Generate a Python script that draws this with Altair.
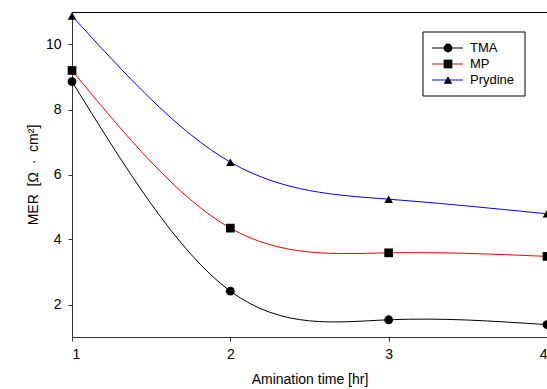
import altair as alt
import pandas as pd

series = ["TMA", "MP", "Prydine"]
time_hr = [1, 2, 3, 4]
tma = [8.86, 2.41, 1.53, 1.38]
mp = [9.20, 4.35, 3.59, 3.48]
prydine = [10.88, 6.38, 5.24, 4.79]
y_ticks = [2, 4, 6, 8, 10]
x_ticks = [1, 2, 3, 4]
colors = ["black", "red", "blue"]
shapes = ["circle", "square", "triangle-up"]
marker_sizes = [78, 74, 170]

rows = []
for name, vals in zip(series, [tma, mp, prydine]):
    for t, v in zip(time_hr, vals):
        rows.append({"series": name, "time": t, "mer": v})
df = pd.DataFrame(rows)
leg_df = pd.DataFrame({"series": series})
box_df = pd.DataFrame({"k": [0]})

FONT = "Liberation Sans"
NB = "\u00a0"

color_scale = alt.Scale(domain=series, range=colors)
shape_scale = alt.Scale(domain=series, range=shapes)
size_scale = alt.Scale(domain=series, range=marker_sizes)

x_enc = alt.X(
    "time:Q",
    scale=alt.Scale(domain=[1, 4], nice=False, zero=False),
    axis=alt.Axis(values=x_ticks, title="Amination time [hr]", format="d"),
)
y_enc = alt.Y(
    "mer:Q",
    scale=alt.Scale(domain=[1, 11], nice=False, zero=False),
    axis=alt.Axis(values=y_ticks, title=f"MER{NB}{NB}[Ω{NB}{NB}·{NB}{NB}cm²]", format="d"),
)

lines = alt.Chart(df).mark_line(interpolate="natural", strokeWidth=1).encode(
    x=x_enc, y=y_enc,
    color=alt.Color("series:N", scale=color_scale, legend=None),
)
points = alt.Chart(df).mark_point(filled=True, color="black", opacity=1).encode(
    x="time:Q", y="mer:Q",
    shape=alt.Shape("series:N", scale=shape_scale, legend=None),
    size=alt.Size("series:N", scale=size_scale, legend=None),
)

leg_y = alt.Y("series:N", scale=alt.Scale(type="point", domain=series, range=[36, 68], padding=0), axis=None)

box = alt.Chart(box_df).mark_rect(fill="white", stroke="black", strokeWidth=1).encode(
    x=alt.value(351), x2=alt.value(453), y=alt.value(20), y2=alt.value(84)
)
leg_lines = alt.Chart(leg_df).mark_rule(strokeWidth=1).encode(
    x=alt.value(360), x2=alt.value(391), y=leg_y,
    color=alt.Color("series:N", scale=color_scale, legend=None),
)
leg_pts = alt.Chart(leg_df).mark_point(filled=True, color="black", opacity=1).encode(
    x=alt.value(376), y=leg_y,
    shape=alt.Shape("series:N", scale=shape_scale, legend=None),
    size=alt.Size("series:N", scale=size_scale, legend=None),
)
leg_txt = alt.Chart(leg_df).mark_text(align="left", baseline="middle", font=FONT, fontSize=13, color="black").encode(
    x=alt.value(398), y=leg_y, text="series:N",
)

main = alt.layer(lines, points)
legend = alt.layer(box, leg_lines, leg_pts, leg_txt)

chart = alt.layer(main, legend).resolve_scale(y="independent").properties(
    width=475,
    height=325,
    autosize=alt.AutoSizeParams(type="none"),
    padding={"left": 72, "top": 12, "right": 0, "bottom": 52},
).configure_view(
    stroke="black", strokeWidth=1
).configure_axis(
    labelFont=FONT, titleFont=FONT, labelFontSize=14, titleFontSize=14,
    labelColor="black", titleColor="black", titleFontWeight="normal",
    domainColor="#333333", tickColor="#333333", tickSize=4, grid=False,
).configure_axisY(
    labelPadding=7, titlePadding=5,
).configure_axisX(
    labelPadding=6, titlePadding=11,
)

chart.save("out.html", embed_options={"renderer": "svg", "actions": False})
